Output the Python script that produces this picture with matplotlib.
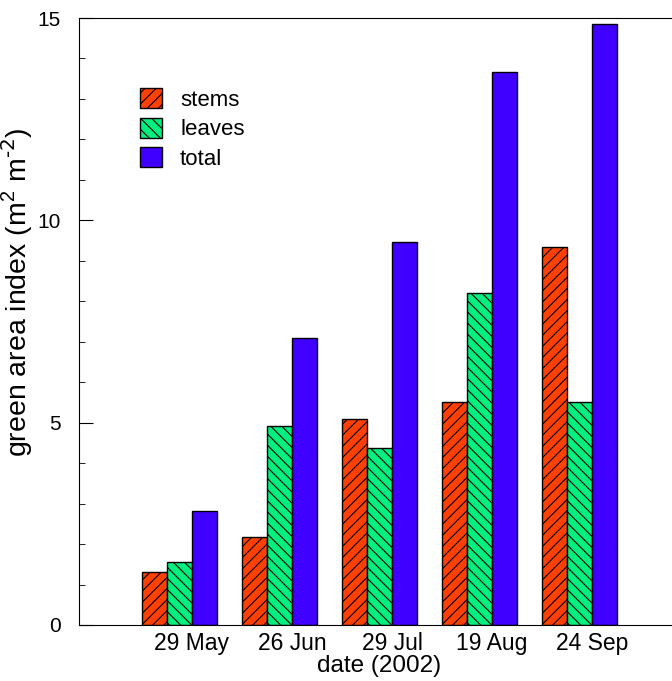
import matplotlib
matplotlib.use("Agg")
import matplotlib.pyplot as plt
import numpy as np
from matplotlib.ticker import MultipleLocator

dates = ["29 May", "26 Jun", "29 Jul", "19 Aug", "24 Sep"]
stems = [1.30, 2.17, 5.09, 5.51, 9.34]
leaves = [1.56, 4.92, 4.37, 8.20, 5.51]
total = [2.82, 7.09, 9.46, 13.66, 14.85]

plt.rcParams['font.family'] = ['Liberation Sans', 'DejaVu Sans']
plt.rcParams['mathtext.default'] = 'regular'
plt.rcParams['hatch.linewidth'] = 0.8

fs = 16.5
fig = plt.figure(figsize=(6.72, 6.81), dpi=100)
ax = fig.add_axes([79 / 672, 1 - 625 / 681, 601 / 672, 607 / 681])

x = np.arange(len(dates))
w = 0.25
ax.bar(x - w, stems, w, color='#ff4000', edgecolor='black', hatch='///', linewidth=1.0, label='stems')
ax.bar(x, leaves, w, color='#00f080', edgecolor='black', hatch='\\\\\\', linewidth=1.0, label='leaves')
ax.bar(x + w, total, w, color='#4000ff', edgecolor='black', linewidth=1.0, label='total')

ax.set_xlim(-1.0, 5.01)
ax.set_ylim(0, 15)
ax.set_xticks(x + 0.13)
ax.set_xticklabels(dates, fontsize=fs)
ax.tick_params(axis='x', length=0, pad=5)
ax.yaxis.set_major_locator(MultipleLocator(5))
ax.yaxis.set_minor_locator(MultipleLocator(1))
ax.tick_params(axis='y', which='major', direction='in', length=10, labelsize=15, pad=13)
ax.tick_params(axis='y', which='minor', direction='in', length=4)
ax.tick_params(right=False, top=False)
ax.spines['right'].set_visible(False)

ax.set_xlabel('date (2002)', fontsize=17.5, labelpad=0)
ax.set_ylabel(r'green area index (m$^{2}$ m$^{\text{-2}}$)', fontsize=20.5)
ax.yaxis.set_label_coords(-44 / 601, (625 - 292) / 607)

ax.legend(loc='upper left', bbox_to_anchor=(61 / 601, 537 / 607), frameon=False, fontsize=16,
          borderpad=0, borderaxespad=0,
          handlelength=1.0, handleheight=1.0, handletextpad=0.8, labelspacing=0.32)

fig.savefig('out.png', dpi=100)
